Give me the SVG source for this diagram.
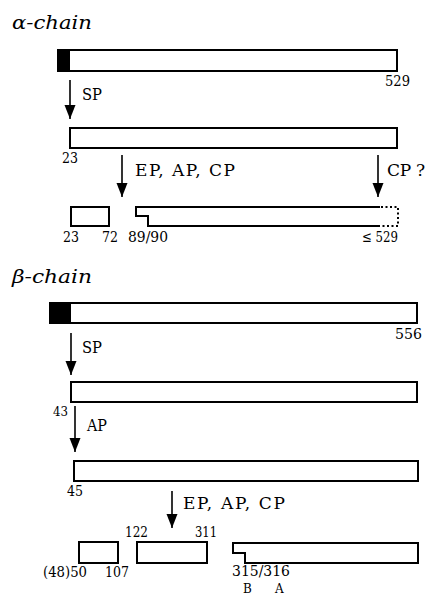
<svg xmlns="http://www.w3.org/2000/svg" width="429" height="597" viewBox="0 0 429 597">
<style>
.bar{fill:#fff;stroke:#000;stroke-width:2}
.blk{fill:#000}
.dot{fill:none;stroke:#000;stroke-width:2;stroke-dasharray:2,2.5}
.arr{stroke:#000;stroke-width:1.6;fill:none;marker-end:url(#ah)}
text{font-family:"DejaVu Serif","Liberation Serif",serif;fill:#000}
.num{font-size:15px}
.lab{font-size:17px}
.ttl{font-size:18px;font-style:italic}
</style>
<defs>
<marker id="ah" markerUnits="userSpaceOnUse" markerWidth="15" markerHeight="12" refX="14" refY="6" orient="auto">
<path d="M0,0.5 L14,6 L0,11.5 Z" fill="#000"/>
</marker>
</defs>
<rect width="429" height="597" fill="#fff"/>

<g id="alpha-title"><text class="ttl" x="12" y="29" textLength="80" lengthAdjust="spacingAndGlyphs">α-chain</text></g>

<g id="alpha-precursor">
<rect class="bar" x="58" y="50" width="339" height="21"/>
<rect class="blk" x="58" y="50" width="12" height="21"/>
<text class="num" x="385" y="86" textLength="25" lengthAdjust="spacingAndGlyphs">529</text>
</g>

<g id="alpha-prochain">
<rect class="bar" x="70" y="128" width="327" height="20"/>
<text class="num" x="62" y="163" textLength="16" lengthAdjust="spacingAndGlyphs">23</text>
</g>

<g id="alpha-fragment1">
<rect class="bar" x="71" y="207" width="38" height="19"/>
<text class="num" x="63" y="242" textLength="16" lengthAdjust="spacingAndGlyphs">23</text>
<text class="num" x="102" y="242" textLength="16" lengthAdjust="spacingAndGlyphs">72</text>
</g>

<g id="alpha-fragment2">
<path class="bar" d="M380,207 H136 V216 H148 V226 H380"/>
<path class="dot" d="M381,207 H398 V226 H381"/>
<text class="num" x="128" y="242" textLength="40" lengthAdjust="spacingAndGlyphs">89/90</text>
<text class="num" x="362" y="242" textLength="36" lengthAdjust="spacingAndGlyphs">≤ 529</text>
</g>

<g id="beta-title"><text class="ttl" x="12" y="283" textLength="80" lengthAdjust="spacingAndGlyphs">β-chain</text></g>

<g id="beta-precursor">
<rect class="bar" x="50" y="303" width="367" height="20"/>
<rect class="blk" x="50" y="303" width="21" height="20"/>
<text class="num" x="395" y="339" textLength="27" lengthAdjust="spacingAndGlyphs">556</text>
</g>

<g id="beta-prochain">
<rect class="bar" x="71" y="382" width="346" height="20"/>
<text font-size="12" x="53" y="416" textLength="15" lengthAdjust="spacingAndGlyphs">43</text>
</g>

<g id="beta-chain45">
<rect class="bar" x="74" y="461" width="344" height="20"/>
<text class="num" x="67" y="496" textLength="16" lengthAdjust="spacingAndGlyphs">45</text>
</g>

<g id="beta-fragment1">
<rect class="bar" x="79" y="542" width="39" height="21"/>
<text class="num" x="43" y="577" textLength="44" lengthAdjust="spacingAndGlyphs">(48)50</text>
<text class="num" x="105" y="577" textLength="24" lengthAdjust="spacingAndGlyphs">107</text>
</g>

<g id="beta-fragment2">
<rect class="bar" x="137" y="542" width="70" height="21"/>
<text class="num" x="125" y="537" textLength="23" lengthAdjust="spacingAndGlyphs">122</text>
<text class="num" x="195" y="537" textLength="22" lengthAdjust="spacingAndGlyphs">311</text>
</g>

<g id="beta-fragment3">
<path class="bar" d="M233,543 H418 V563 H245 V553 H233 Z"/>
<text class="num" x="232" y="576" textLength="58" lengthAdjust="spacingAndGlyphs">315/316</text>
<text font-size="12" x="243" y="593">B</text>
<text font-size="12" x="275" y="593">A</text>
</g>

<g id="connectors">
<line class="arr" x1="70" y1="80" x2="70" y2="119"/>
<line class="arr" x1="122" y1="155" x2="122" y2="197"/>
<line class="arr" x1="378" y1="155" x2="378" y2="197"/>
<line class="arr" x1="71" y1="333" x2="71" y2="375"/>
<line class="arr" x1="75" y1="406" x2="75" y2="452"/>
<line class="arr" x1="172" y1="491" x2="172" y2="528"/>
</g>

<g id="connector-labels">
<text class="lab" x="82" y="100" textLength="20" lengthAdjust="spacingAndGlyphs">SP</text>
<text class="lab" x="135" y="176" textLength="100">EP, AP, CP</text>
<text class="lab" x="387" y="176" textLength="38">CP ?</text>
<text class="lab" x="82" y="353" textLength="20" lengthAdjust="spacingAndGlyphs">SP</text>
<text class="lab" x="87" y="431" textLength="20" lengthAdjust="spacingAndGlyphs">AP</text>
<text class="lab" x="183" y="509" textLength="102">EP, AP, CP</text>
</g>
</svg>
